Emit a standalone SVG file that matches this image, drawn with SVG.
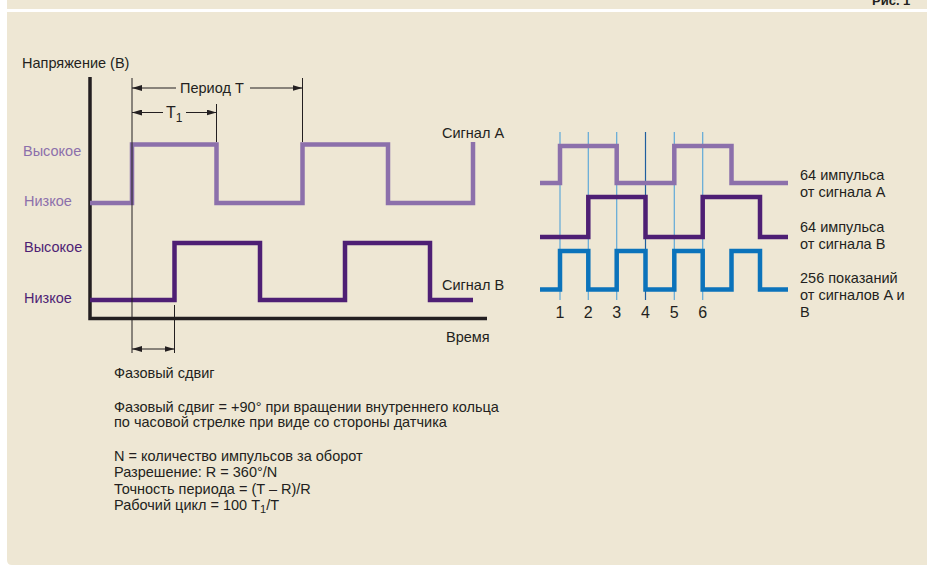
<svg xmlns="http://www.w3.org/2000/svg" width="927" height="565" viewBox="0 0 927 565">
<defs>
<style>
text{font-family:"Liberation Sans",Arial,sans-serif;font-size:14.5px;fill:#231f20}
.a{fill:#8c70ab}
.b{fill:#4e1f74}
.sa{fill:none;stroke:#8c70ab;stroke-width:4.5}
.sb{fill:none;stroke:#4e1f74;stroke-width:4.5}
.sc{fill:none;stroke:#0b73bb;stroke-width:4.5}
.axis{fill:none;stroke:#231f20;stroke-width:3.5}
.thin{fill:none;stroke:#231f20;stroke-width:1}
.dim{fill:none;stroke:#231f20;stroke-width:1}
.vl{stroke:#5fa9d8;stroke-width:1.2}
.num{font-size:16px}
</style>
<marker id="ar" viewBox="0 0 10 6" refX="10" refY="3" markerWidth="10" markerHeight="6" orient="auto-start-reverse" markerUnits="userSpaceOnUse">
<path d="M0,0 L10,3 L0,6 z" fill="#231f20"/>
</marker>
</defs>
<rect width="927" height="565" fill="#ffffff"/>
<rect x="7" y="0" width="920" height="9" fill="#eee7d4"/>
<path d="M7,12 H927 V565 H12 Q7,565 7,560 Z" fill="#eee7d4"/>
<text x="872" y="5" style="font-weight:bold;font-size:13px">Рис. 1</text>

<g id="axes">
<path class="axis" d="M90,77 V318.5 H487"/>
<text x="22" y="68">Напряжение (В)</text>
<text x="446" y="342">Время</text>
</g>

<g id="signal-a-left">
<path class="sa" d="M90,203 H132 V144.5 H216.5 V203 H302.5 V144.5 H388 V203 H473 V142"/>
<text class="a" x="23" y="156">Высокое</text>
<text class="a" x="24" y="206">Низкое</text>
<text x="442" y="138">Сигнал A</text>
</g>

<g id="signal-b-left">
<path class="sb" d="M90,300 H174.5 V243 H260 V300 H345 V243 H430 V300 H473"/>
<text class="b" x="24" y="252">Высокое</text>
<text class="b" x="24" y="303">Низкое</text>
<text x="442" y="290">Сигнал B</text>
</g>

<g id="dimensions">
<line class="thin" x1="132" y1="78" x2="132" y2="353"/>
<line class="thin" x1="302.5" y1="78" x2="302.5" y2="142"/>
<line class="thin" x1="216.5" y1="104" x2="216.5" y2="142"/>
<line class="thin" x1="174.5" y1="305" x2="174.5" y2="353"/>
<line class="dim" x1="132" y1="88" x2="176" y2="88" marker-start="url(#ar)"/>
<line class="dim" x1="250" y1="88" x2="302.5" y2="88" marker-end="url(#ar)"/>
<text x="180" y="92.5">Период T</text>
<line class="dim" x1="132" y1="112.5" x2="163" y2="112.5" marker-start="url(#ar)"/>
<line class="dim" x1="186" y1="112.5" x2="216.5" y2="112.5" marker-end="url(#ar)"/>
<text x="166" y="117.5" style="font-size:16px">T<tspan dy="4" style="font-size:12px">1</tspan></text>
<line class="dim" x1="132" y1="349" x2="174.5" y2="349" marker-start="url(#ar)" marker-end="url(#ar)"/>
</g>

<g id="notes">
<text x="114" y="378">Фазовый сдвиг</text>
<text x="114" y="412">Фазовый сдвиг = +90° при вращении внутреннего кольца</text>
<text x="114" y="427">по часовой стрелке при виде со стороны датчика</text>
<text x="114" y="461">N = количество импульсов за оборот</text>
<text x="114" y="477">Разрешение: R = 360°/N</text>
<text x="114" y="494">Точность периода = (T – R)/R</text>
<text x="114" y="510">Рабочий цикл = 100 T<tspan dy="3" style="font-size:11px">1</tspan><tspan dy="-3">/T</tspan></text>
</g>

<g id="ticks">
<line class="vl" x1="560" y1="132" x2="560" y2="300"/>
<line class="vl" x1="588.3" y1="132" x2="588.3" y2="300"/>
<line class="vl" x1="616.7" y1="132" x2="616.7" y2="300"/>
<line class="vl" x1="645.5" y1="132" x2="645.5" y2="300" style="stroke:#1f5f9e"/>
<line class="vl" x1="674.3" y1="132" x2="674.3" y2="300"/>
<line class="vl" x1="702.7" y1="132" x2="702.7" y2="300"/>
<text class="num" x="560" y="318" text-anchor="middle">1</text>
<text class="num" x="588.3" y="318" text-anchor="middle">2</text>
<text class="num" x="616.7" y="318" text-anchor="middle">3</text>
<text class="num" x="645.5" y="318" text-anchor="middle">4</text>
<text class="num" x="674.3" y="318" text-anchor="middle">5</text>
<text class="num" x="702.7" y="318" text-anchor="middle">6</text>
</g>

<g id="signal-a-right">
<path class="sa" d="M540,183 H560 V146 H616.7 V183 H674.3 V146 H731.5 V183 H788"/>
<text x="800" y="180">64 импульса</text>
<text x="800" y="197">от сигнала A</text>
</g>
<g id="signal-b-right">
<path class="sb" d="M540,237 H588.3 V197 H645.5 V237 H702.7 V197 H760 V237 H788"/>
<text x="800" y="232">64 импульса</text>
<text x="800" y="249">от сигнала B</text>
</g>
<g id="signal-ab-right">
<path class="sc" d="M540,289.5 H560 V251 H588.3 V289.5 H616.7 V251 H645.5 V289.5 H674.3 V251 H702.7 V289.5 H731.5 V251 H760 V289.5 H788"/>
<text x="800" y="283">256 показаний</text>
<text x="800" y="300">от сигналов A и</text>
<text x="800" y="317">В</text>
</g>
</svg>
